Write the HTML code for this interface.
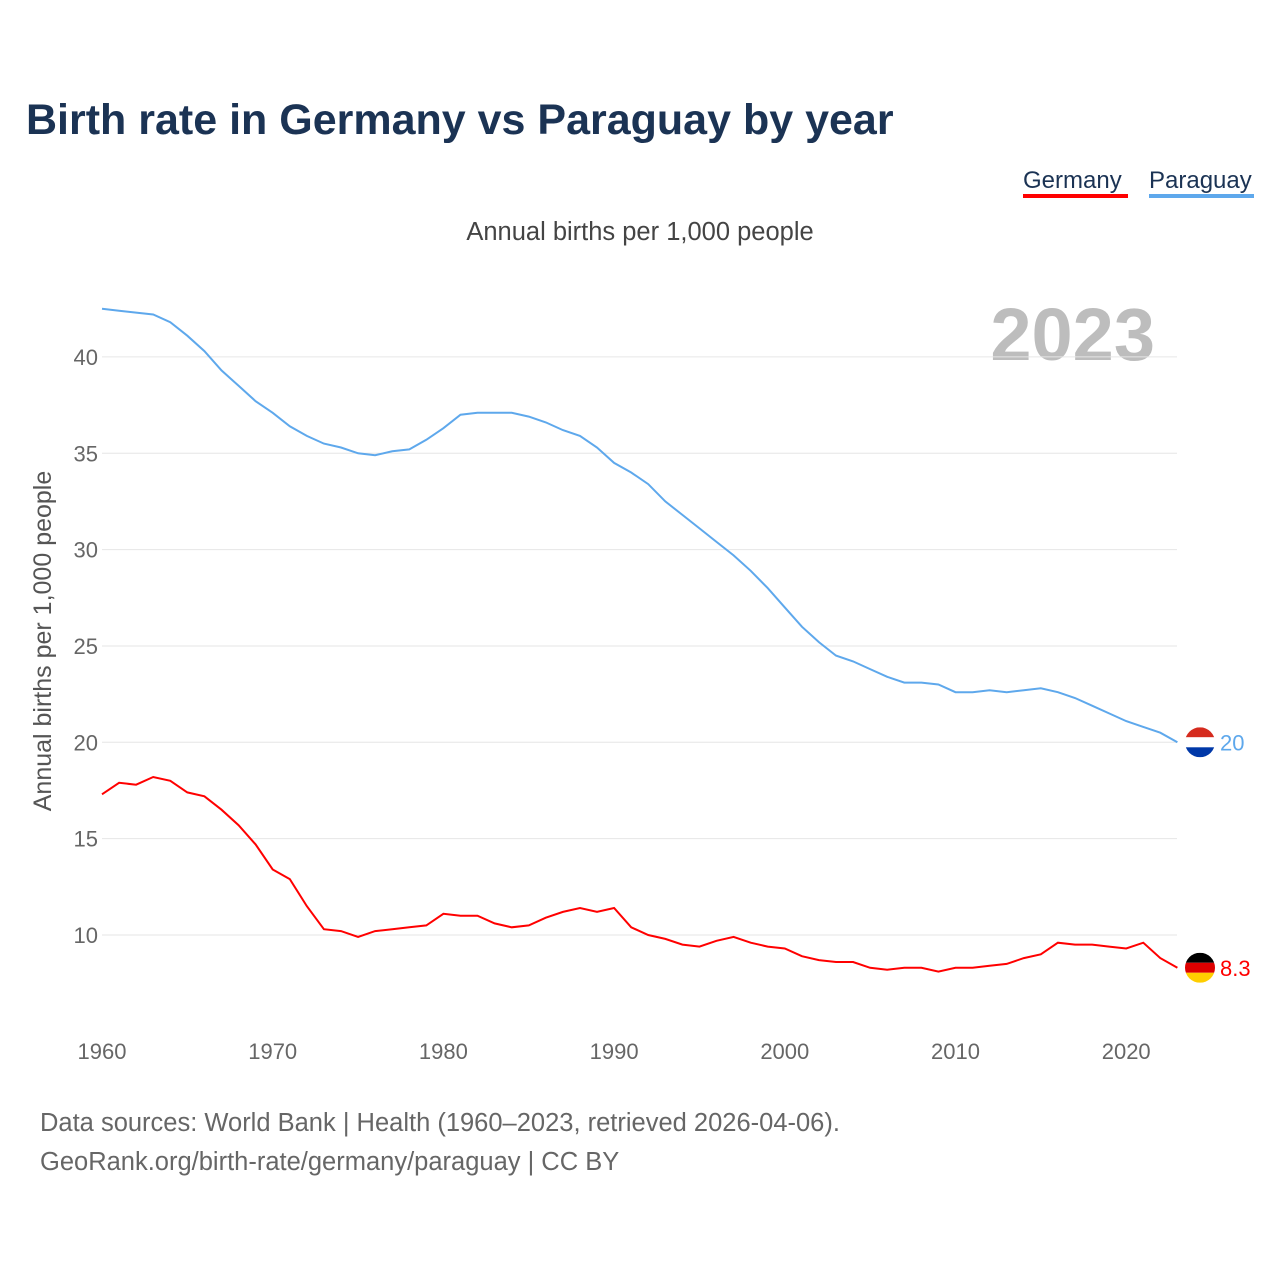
<!DOCTYPE html>
<html><head><meta charset="utf-8"><style>
body{margin:0;background:#fff;font-family:"Liberation Sans",sans-serif}
svg text{font-family:"Liberation Sans",sans-serif}
</style></head><body>
<svg width="1280" height="1280" xmlns="http://www.w3.org/2000/svg">
<text x="26" y="134" font-size="43" font-weight="bold" fill="#1b3354">Birth rate in Germany vs Paraguay by year</text>
<g><text x="1023" y="188" font-size="24" fill="#1b3354">Germany</text><rect x="1023" y="194" width="105" height="4" fill="#ff0000"/></g>
<g><text x="1149" y="188" font-size="24" fill="#1b3354">Paraguay</text><rect x="1149" y="194" width="105" height="4" fill="#5ea8ec"/></g>
<text x="640" y="240" font-size="25.5" fill="#444" text-anchor="middle">Annual births per 1,000 people</text>
<text x="1155" y="360" font-size="74" font-weight="bold" fill="#bdbdbd" text-anchor="end">2023</text>
<text transform="translate(51,641) rotate(-90)" font-size="25" fill="#555" text-anchor="middle">Annual births per 1,000 people</text>
<g id="grid"></g><g id="lines"></g>
<text x="40" y="1131" font-size="25.5" fill="#666">Data sources: World Bank | Health (1960–2023, retrieved 2026-04-06).</text>
<text x="40" y="1170" font-size="25.5" fill="#666">GeoRank.org/birth-rate/germany/paraguay | CC BY</text>
</svg>
<script>
const years=[];for(let y=1960;y<=2023;y++)years.push(y);
const paraguay=[42.5,42.4,42.3,42.2,41.8,41.1,40.3,39.3,38.5,37.7,37.1,36.4,35.9,35.5,35.3,35.0,34.9,35.1,35.2,35.7,36.3,37.0,37.1,37.1,37.1,36.9,36.6,36.2,35.9,35.3,34.5,34.0,33.4,32.5,31.8,31.1,30.4,29.7,28.9,28.0,27.0,26.0,25.2,24.5,24.2,23.8,23.4,23.1,23.1,23.0,22.6,22.6,22.7,22.6,22.7,22.8,22.6,22.3,21.9,21.5,21.1,20.8,20.5,20.0];
const germany=[17.3,17.9,17.8,18.2,18.0,17.4,17.2,16.5,15.7,14.7,13.4,12.9,11.5,10.3,10.2,9.9,10.2,10.3,10.4,10.5,11.1,11.0,11.0,10.6,10.4,10.5,10.9,11.2,11.4,11.2,11.4,10.4,10.0,9.8,9.5,9.4,9.7,9.9,9.6,9.4,9.3,8.9,8.7,8.6,8.6,8.3,8.2,8.3,8.3,8.1,8.3,8.3,8.4,8.5,8.8,9.0,9.6,9.5,9.5,9.4,9.3,9.6,8.8,8.3];
const yTicks=[10,15,20,25,30,35,40];
const xTicks=[1960,1970,1980,1990,2000,2010,2020];
const NS="http://www.w3.org/2000/svg";
const X=y=>102+(y-1960)*17.07;
const Y=v=>1127.7-v*19.27;
const grid=document.getElementById('grid'),lines=document.getElementById('lines');
function mk(t,a,p){const e=document.createElementNS(NS,t);for(const k in a)e.setAttribute(k,a[k]);p.appendChild(e);return e;}
yTicks.forEach(v=>{
 const l=mk('line',{x1:102,x2:1177,y1:Y(v),y2:Y(v),stroke:'#e6e6e6','stroke-width':1},grid);
 
 
 const t=mk('text',{x:98,y:Y(v)+8,'font-size':22,fill:'#666','text-anchor':'end'},grid);t.textContent=v;
 
 
});
xTicks.forEach(v=>{
 const t=mk('text',{x:X(v),y:1059,'font-size':22,fill:'#666','text-anchor':'middle'},grid);t.textContent=v;
 
 
});
function line(d,c,n){
 const p=mk('path',{d:d.map((v,i)=>(i?'L':'M')+X(years[i]).toFixed(1)+','+Y(v).toFixed(1)).join(''),fill:'none',stroke:c,'stroke-width':2},lines);
 
 
}
line(paraguay,'#5ea8ec','paraguay-line');
line(germany,'#ff0000','germany-line');
const py=Y(paraguay[paraguay.length-1]),gy=Y(germany[germany.length-1]);
let g=mk('g',{},lines);


const cp1=mk('clipPath',{id:'cp'},g);mk('circle',{cx:1200,cy:py,r:15},cp1);
mk('rect',{x:1185,y:py-15,width:30,height:10,fill:'#d52b1e','clip-path':'url(#cp)'},g);
mk('rect',{x:1185,y:py-5,width:30,height:10,fill:'#fff','clip-path':'url(#cp)'},g);
mk('rect',{x:1185,y:py+5,width:30,height:10,fill:'#0038a8','clip-path':'url(#cp)'},g);
let t=mk('text',{x:1220,y:py+8,'font-size':22,fill:'#5ea8ec'},lines);t.textContent='20';


g=mk('g',{},lines);


const cp2=mk('clipPath',{id:'cg'},g);mk('circle',{cx:1200,cy:gy,r:15},cp2);
mk('rect',{x:1185,y:gy-15,width:30,height:10,fill:'#000','clip-path':'url(#cg)'},g);
mk('rect',{x:1185,y:gy-5,width:30,height:10,fill:'#dd0000','clip-path':'url(#cg)'},g);
mk('rect',{x:1185,y:gy+5,width:30,height:10,fill:'#ffce00','clip-path':'url(#cg)'},g);
t=mk('text',{x:1220,y:gy+8,'font-size':22,fill:'#ff0000'},lines);t.textContent='8.3';


</script>
</body></html>
